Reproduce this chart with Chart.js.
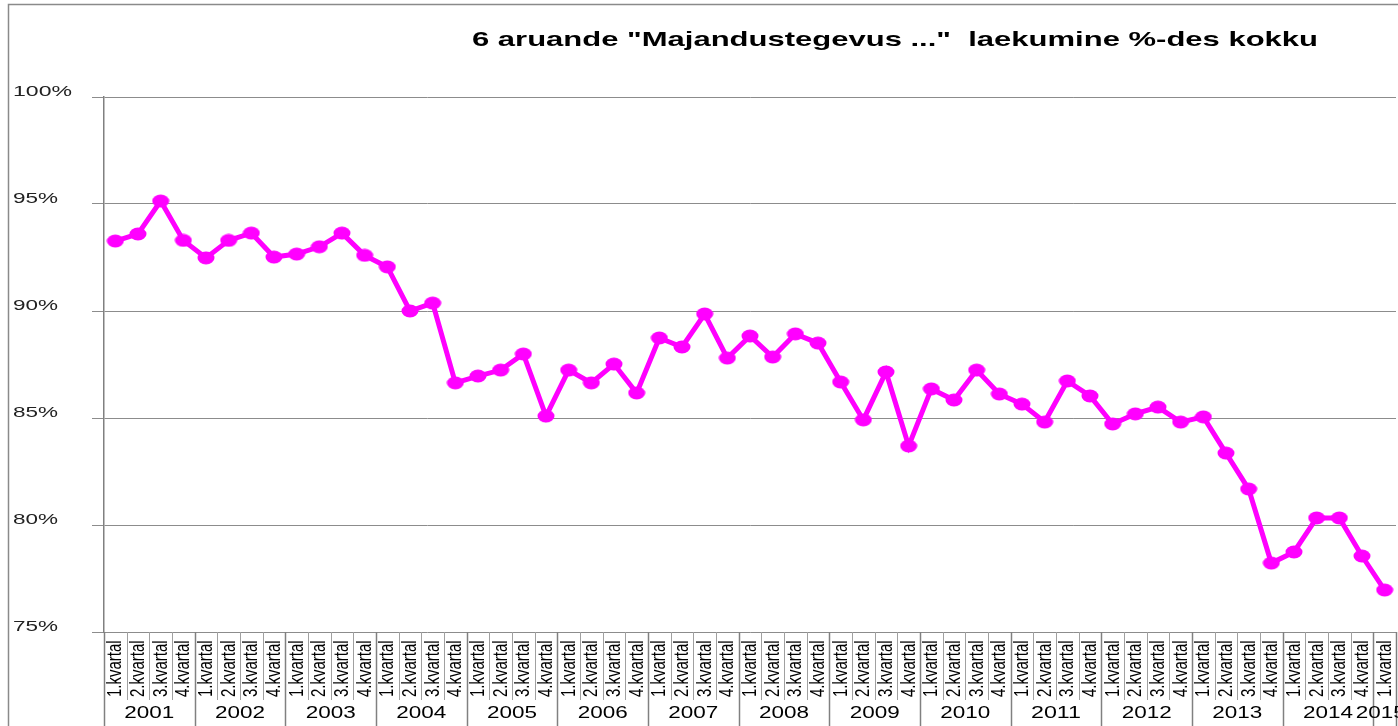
<!DOCTYPE html>
<html>
<head>
<meta charset="utf-8">
<script src="https://cdn.jsdelivr.net/npm/chart.js@4.4.1/dist/chart.umd.min.js"></script>
<style>
html,body{margin:0;padding:0;background:#fff;}
#wrap{width:1398px;height:726px;position:relative;}
</style>
</head>
<body>
<div id="wrap"><canvas id="c" width="1398" height="726"></canvas></div>
<script>
const titleText = '6 aruande "Majandustegevus ..."  laekumine %-des kokku';
const years = ['2001','2002','2003','2004','2005','2006','2007','2008','2009','2010','2011','2012','2013','2014','2015'];
const quarterNames = ['1.kvartal','2.kvartal','3.kvartal','4.kvartal'];
const quartersPerYear = [4,4,4,4,4,4,4,4,4,4,4,4,4,4,1];
const values = [
  93.27, 93.6, 95.14, 93.3,
  92.48, 93.3, 93.64, 92.52,
  92.66, 93.0, 93.64, 92.6,
  92.06, 90.0, 90.37, 86.64,
  86.96, 87.24, 87.99, 85.09,
  87.24, 86.64, 87.52, 86.17,
  88.74, 88.32, 89.86, 87.8,
  88.83, 87.85, 88.93, 88.5,
  86.68, 84.91, 87.15, 83.69,
  86.36, 85.84, 87.24, 86.12,
  85.65, 84.81, 86.73, 86.03,
  84.72, 85.19, 85.51, 84.81,
  85.05, 83.36, 81.68, 78.22,
  78.74, 80.33, 80.33, 78.55,
  76.96
];
const yTicks = [75, 80, 85, 90, 95, 100];

const categories = [];
const yearOfCat = [];
years.forEach((y, yi) => {
  for (let q = 0; q < quartersPerYear[yi]; q++) { categories.push(quarterNames[q]); yearOfCat.push(yi); }
});

const pt = document.createElement('canvas');
pt.width = 18; pt.height = 14;
(function(){ const c = pt.getContext('2d'); c.fillStyle = '#ff00ff'; c.beginPath(); c.ellipse(9, 7, 8.5, 6.5, 0, 0, Math.PI*2); c.fill(); })();

const FONT = '"Liberation Sans", Arial, sans-serif';

function stretchedText(ctx, text, x, y, font, targetW, align) {
  ctx.save();
  ctx.font = font;
  const w = ctx.measureText(text).width;
  const s = targetW / w;
  let left = x;
  if (align === 'center') left = x - targetW / 2;
  ctx.translate(left, y);
  ctx.scale(s, 1);
  ctx.textAlign = 'left';
  ctx.textBaseline = 'middle';
  ctx.fillText(text, 0, 0);
  ctx.restore();
}

const decor = {
  id: 'decor',
  beforeDraw(chart) {
    const ctx = chart.ctx;
    ctx.save();
    ctx.fillStyle = '#fff';
    ctx.fillRect(0, 0, chart.width, chart.height);
    ctx.strokeStyle = '#8a8a8a';
    ctx.lineWidth = 1.5;
    ctx.beginPath();
    ctx.moveTo(8.5, 726); ctx.lineTo(8.5, 4.5); ctx.lineTo(1398, 4.5);
    ctx.stroke();
    ctx.fillStyle = '#000';
    stretchedText(ctx, titleText, 472, 40, 'bold 21px ' + FONT, 846, 'left');
    ctx.restore();
  },
  afterDraw(chart) {
    const ctx = chart.ctx;
    const xs = chart.scales.x;
    const ys = chart.scales.y;
    const area = chart.chartArea;
    const n = categories.length;
    const step = (xs.getPixelForValue(1) - xs.getPixelForValue(0));
    ctx.save();
    ctx.fillStyle = '#222';
    yTicks.forEach(v => {
      const label = v + '%';
      const y = ys.getPixelForValue(v) - 5;
      const tw = label.length === 4 ? 59 : 45;
      stretchedText(ctx, label, 13, y, '14px ' + FONT, tw, 'left');
    });
    for (let i = 0; i <= n; i++) {
      const x = Math.round(xs.getPixelForValue(0) - step/2 + i*step) + 0.5;
      const isYear = (i === 0) || (i === n) || (yearOfCat[i] !== yearOfCat[i-1]);
      ctx.strokeStyle = isYear ? '#808080' : '#a0a0a0';
      ctx.lineWidth = isYear ? 1.5 : 1;
      ctx.beginPath();
      ctx.moveTo(x, area.bottom);
      ctx.lineTo(x, isYear ? 726 : 700);
      ctx.stroke();
    }
    ctx.fillStyle = '#000';
    ctx.font = '15px ' + FONT;
    ctx.textAlign = 'left';
    ctx.textBaseline = 'middle';
    for (let i = 0; i < n; i++) {
      const x = xs.getPixelForValue(i);
      ctx.save();
      ctx.translate(x + 0.5, 697);
      ctx.rotate(-Math.PI/2);
      ctx.scale(1, 1.3);
      ctx.fillText(categories[i], 0, 0);
      ctx.restore();
    }
    let start = 0;
    years.forEach((y, yi) => {
      const cnt = quartersPerYear[yi];
      const x0 = xs.getPixelForValue(start) - step/2;
      const x1 = xs.getPixelForValue(start + cnt - 1) + step/2;
      const cx = yi === years.length - 1 ? xs.getPixelForValue(start) - 4 : (x0 + x1)/2;
      stretchedText(ctx, y, cx, 714, '16px ' + FONT, 50, 'center');
      start += cnt;
    });
    ctx.restore();
  }
};

new Chart(document.getElementById('c'), {
  type: 'line',
  data: {
    labels: categories,
    datasets: [{
      data: values,
      borderColor: '#ff00ff',
      backgroundColor: '#ff00ff',
      borderWidth: 5,
      pointStyle: pt,
      pointRadius: 7,
      pointHoverRadius: 7,
      tension: 0,
      clip: false
    }]
  },
  options: {
    responsive: false,
    animation: false,
    devicePixelRatio: 1,
    layout: { autoPadding: false, padding: { left: 12, top: 97, right: 2, bottom: 94 } },
    plugins: { legend: { display: false }, title: { display: false }, tooltip: { enabled: false } },
    scales: {
      x: {
        type: 'category',
        offset: true,
        display: false,
        grid: { display: false }
      },
      y: {
        min: 75, max: 100,
        afterBuildTicks(scale) { scale.ticks = yTicks.map(v => ({ value: v })); },
        afterFit(scale) { scale.width = 92; },
        border: { display: true, color: '#808080', width: 1.5 },
        grid: { color: '#8c8c8c', lineWidth: 1, tickLength: 12, drawTicks: true },
        ticks: {
          callback: v => v + '%',
          color: 'rgba(0,0,0,0)',
          font: { family: FONT, size: 14 }
        }
      }
    }
  },
  plugins: [decor]
});
</script>
</body>
</html>
